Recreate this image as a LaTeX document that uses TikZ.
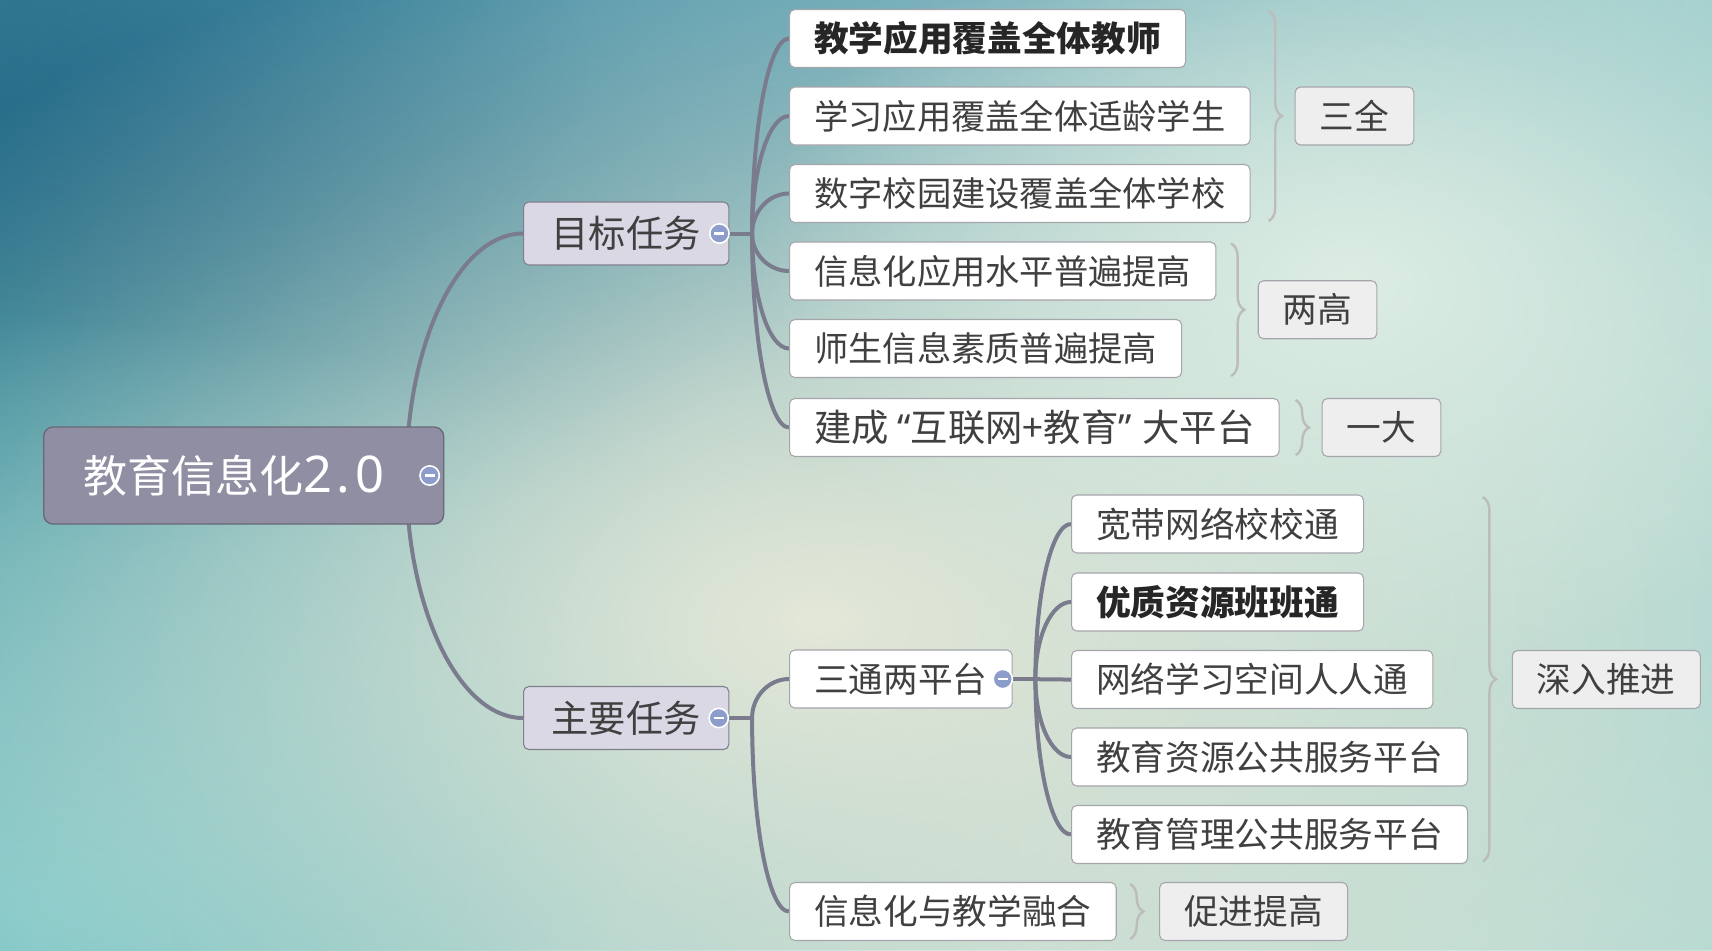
\documentclass[tikz,border=0pt]{standalone}
\usepackage{fontspec}
\setmainfont{Noto Sans CJK SC}
\newfontfamily\quotefont{Noto Sans}
\usetikzlibrary{calc,fadings,decorations.pathreplacing}
\pgfdeclarelayer{backdrop}
\pgfdeclarelayer{links}
\pgfsetlayers{backdrop,links,main}

\definecolor{rootfill}{RGB}{143,142,162}
\definecolor{rootedge}{RGB}{105,104,120}
\definecolor{taskfill}{RGB}{217,216,228}
\definecolor{taskedge}{RGB}{128,128,140}
\definecolor{leafedge}{RGB}{165,165,172}
\definecolor{tagfill}{RGB}{238,238,238}
\definecolor{txtgray}{RGB}{64,64,64}
\definecolor{linkgray}{RGB}{122,124,142}
\definecolor{bracegray}{RGB}{188,188,188}
\definecolor{togfill}{RGB}{141,157,203}

\tikzfading[name=blobfade, inner color=transparent!0, outer color=transparent!100]

% quarter-ellipse branch: leaves vertically, enters the child horizontally
\newcommand{\mmbranch}[2]{\draw[branchline] (#1) .. controls ($(#1)!0.55!(#1 |- #2)$) and ($(#2)!0.55!(#1 |- #2)$) .. (#2);}

\begin{document}
\begin{tikzpicture}[x=0.75pt,y=0.75pt,yscale=-1,
  leaf/.style={draw=leafedge, fill=white, line width=0.8pt, rounded corners=4pt, anchor=west,
    text=txtgray, font=\fontsize{26pt}{30pt}\selectfont, inner xsep=18.5pt, inner ysep=0pt, minimum height=43.5pt},
  bigleaf/.style={leaf, font=\fontsize{25.7pt}{30pt}\selectfont},
  boldleaf/.style={leaf, text=black!85, font=\fontsize{26pt}{30pt}\selectfont\bfseries},
  tag/.style={leaf, fill=tagfill},
  task/.style={leaf, fill=taskfill, draw=taskedge, font=\fontsize{28pt}{32pt}\selectfont, inner xsep=21pt, minimum height=47.25pt},
  rootbox/.style={draw=rootedge, fill=rootfill, line width=1pt, rounded corners=7pt, anchor=west, text=white,
    font=\fontsize{33pt}{38pt}\selectfont, text width=240pt, align=left, inner xsep=30pt, inner ysep=0pt, minimum height=72.75pt},
  toggle/.style={circle, fill=togfill, draw=white, line width=1.2pt, minimum size=14.5pt, inner sep=0pt,
    path picture={\draw[white, line width=1.6pt] ([xshift=-3.8pt]path picture bounding box.center) -- ([xshift=3.8pt]path picture bounding box.center);}},
  branchline/.style={draw=linkgray, line width=3pt},
  bracket/.style={draw=bracegray, line width=1.8pt, decorate, decoration={brace, amplitude=10pt}}
]
\useasboundingbox (0,0) rectangle (1712,950);

%background
\begin{pgfonlayer}{backdrop}
  \fill[fill={rgb,255:red,213;green,228;blue,215}] (0,0) rectangle (1712,950);
  \fill[fill={rgb,255:red,58;green,143;blue,163}, path fading=blobfade] (150,150) ellipse (1800 and 1200);
  \fill[fill={rgb,255:red,40;green,138;blue,156}, path fading=blobfade] (0,450) ellipse (700 and 1000);
  \fill[fill={rgb,255:red,14;green,88;blue,119}, path fading=blobfade] (150,90) ellipse (800 and 460);
  \fill[fill={rgb,255:red,12;green,84;blue,118}, path fading=blobfade, fill opacity=0.85] (130,70) ellipse (460 and 260);
  \fill[fill={rgb,255:red,118;green,198;blue,200}, path fading=blobfade] (30,920) ellipse (1000 and 600);
  \fill[fill={rgb,255:red,100;green,165;blue,184}, path fading=blobfade, fill opacity=0.7] (800,0) ellipse (1600 and 360);
  \fill[fill={rgb,255:red,168;green,213;blue,208}, path fading=blobfade] (1750,640) ellipse (900 and 1100);
  \fill[fill={rgb,255:red,160;green,208;blue,207}, path fading=blobfade, fill opacity=0.7] (1712,0) ellipse (700 and 500);
  \fill[fill={rgb,255:red,228;green,232;blue,216}, path fading=blobfade] (820,620) ellipse (1200 and 700);
  \fill[fill={rgb,255:red,220;green,237;blue,228}, path fading=blobfade] (1350,280) ellipse (600 and 400);
\end{pgfonlayer}

%root and tasks
\node[rootbox] (root) at (43,475.5) {教育信息化{\quotefont\fontsize{38pt}{40pt}\selectfont 2\kern3pt.\kern4pt0}};
\node[task] (goal) at (523,233.5) {目标任务};
\node[task] (main) at (523,718) {主要任务};

%goal leaves
\node[boldleaf] (t1) at (789,38.5) {教学应用覆盖全体教师};
\node[bigleaf] (t2) at (789,116) {学习应用覆盖全体适龄学生};
\node[bigleaf] (t3) at (789,193.5) {数字校园建设覆盖全体学校};
\node[bigleaf] (t4) at (789,271) {信息化应用水平普遍提高};
\node[bigleaf] (t5) at (789,348.5) {师生信息素质普遍提高};
\node[bigleaf, font=\fontsize{28pt}{32pt}\selectfont] (t6) at (789,427.5) {建成\kern6.5pt{\quotefont“}互联网+教育{\quotefont”}\kern8pt 大平台};

%main leaves
\node[leaf] (s1) at (789,679) {三通两平台};
\node[leaf] (s2) at (789,911.5) {信息化与教学融合};
\node[leaf] (p1) at (1071,524) {宽带网络校校通};
\node[boldleaf] (p2) at (1071,602) {优质资源班班通};
\node[leaf] (p3) at (1071,679.5) {网络学习空间人人通};
\node[leaf] (p4) at (1071,757) {教育资源公共服务平台};
\node[leaf] (p5) at (1071,834.5) {教育管理公共服务平台};

%toggles
\node[toggle] (roottog) at ([xshift=-11pt]root.east) {};
\node[toggle] (goaltog) at ([xshift=-7.5pt]goal.east) {};
\node[toggle] (maintog) at ([xshift=-8pt]main.east) {};
\node[toggle] (s1tog) at ([xshift=-7.5pt]s1.east) {};

\coordinate (rootout) at ([xshift=-28.5pt]root.east);
\coordinate (goalfork) at ([xshift=17pt]goal.east);
\coordinate (mainfork) at ([xshift=17pt]main.east);
\coordinate (s1fork) at ([xshift=17pt]s1.east);

%connectors
\begin{pgfonlayer}{links}
  \mmbranch{rootout}{goal.west}
  \mmbranch{rootout}{main.west}
  \draw[branchline] (goal.east) -- (goalfork);
  \draw[branchline] (main.east) -- (mainfork);
  \draw[branchline] (s1.east) -- (s1fork);
  \foreach \n in {t1,t2,t3,t4,t5,t6} {\mmbranch{goalfork}{\n.west}}
  \foreach \n in {s1,s2} {\mmbranch{mainfork}{\n.west}}
  \foreach \n in {p1,p2,p3,p4,p5} {\mmbranch{s1fork}{\n.west}}
\end{pgfonlayer}

%braces and summaries
\coordinate (qbr) at ([xshift=13.5pt]t2.east);
\coordinate (lbr) at ([xshift=11pt]t4.east);
\coordinate (ybr) at ([xshift=12pt]t6.east);
\coordinate (sbr) at ([xshift=11pt]p5.east |- p3.east);
\coordinate (cbr) at ([xshift=10pt]s2.east);
\draw[bracket] ([yshift=1.5pt]qbr |- t1.north) -- ([yshift=-1.5pt]qbr |- t3.south);
\draw[bracket] ([yshift=1.5pt]lbr |- t4.north) -- ([yshift=-1.5pt]lbr |- t5.south);
\draw[bracket] ([yshift=1.5pt]ybr |- t6.north) -- ([yshift=-1.5pt]ybr |- t6.south);
\draw[bracket] ([yshift=2pt]sbr |- p1.north) -- ([yshift=-2pt]sbr |- p5.south);
\draw[bracket] ([yshift=1.5pt]cbr |- s2.north) -- ([yshift=-1.5pt]cbr |- s2.south);
\node[tag] (sanquan) at ([xshift=19.5pt]qbr) {三全};
\node[tag] (lianggao) at ([xshift=20pt]$(lbr |- t4.north)!0.5!(lbr |- t5.south)$) {两高};
\node[tag] (yida) at ([xshift=19.5pt]ybr) {一大};
\node[tag] (shenru) at ([xshift=21.75pt]sbr) {深入推进};
\node[tag] (cujin) at ([xshift=21.75pt]cbr) {促进提高};
\end{tikzpicture}
\end{document}
